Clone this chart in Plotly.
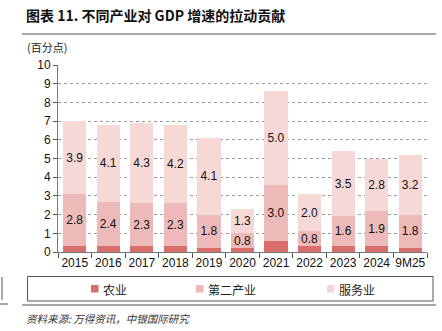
import plotly.graph_objects as go

years = ["2015", "2016", "2017", "2018", "2019", "2020", "2021", "2022", "2023", "2024", "9M25"]
agri = [0.3, 0.3, 0.3, 0.3, 0.2, 0.2, 0.6, 0.3, 0.3, 0.3, 0.2]
industry = [2.8, 2.4, 2.3, 2.3, 1.8, 0.8, 3.0, 0.8, 1.6, 1.9, 1.8]
services = [3.9, 4.1, 4.3, 4.2, 4.1, 1.3, 5.0, 2.0, 3.5, 2.8, 3.2]
series_names = ["农业", "第二产业", "服务业"]
colors = ["#D96F6B", "#EDB9B9", "#F6D9D7"]

W, H = 442, 331
L, R, T, B = 58, 15, 65, 79

fig = go.Figure()
fig.add_trace(go.Bar(x=years, y=agri, name=series_names[0], marker_color=colors[0],
                     marker_line_width=0, hoverinfo="y"))
fig.add_trace(go.Bar(x=years, y=industry, name=series_names[1], marker_color=colors[1],
                     marker_line_width=0, text=industry, texttemplate="%{y:.1f}",
                     textposition="inside", insidetextanchor="middle"))
fig.add_trace(go.Bar(x=years, y=services, name=series_names[2], marker_color=colors[2],
                     marker_line_width=0, text=services, texttemplate="%{y:.1f}",
                     textposition="inside", insidetextanchor="middle"))
fig.update_traces(textfont=dict(family="Liberation Sans, Arial", size=12, color="#111"),
                  textangle=0, cliponaxis=False)


def pxx(p):
    return (p - L) / (W - L - R)


def pxy(p):
    return (H - B - p) / (H - T - B)


shapes = []
# line under title
shapes.append(dict(type="line", xref="paper", yref="paper",
                   x0=pxx(22), x1=pxx(436), y0=pxy(34), y1=pxy(34),
                   line=dict(color="#8a8a8a", width=1.5)))
# legend box
shapes.append(dict(type="rect", xref="paper", yref="paper",
                   x0=pxx(27.5), x1=pxx(433), y0=pxy(276.5), y1=pxy(301),
                   line=dict(color="#555", width=1), fillcolor="rgba(0,0,0,0)"))
# line under legend
shapes.append(dict(type="line", xref="paper", yref="paper",
                   x0=pxx(22), x1=pxx(436), y0=pxy(305), y1=pxy(305),
                   line=dict(color="#8a8a8a", width=1.5)))
# edge artifacts
shapes.append(dict(type="line", xref="paper", yref="paper",
                   x0=pxx(2), x1=pxx(2), y0=pxy(277), y1=pxy(300),
                   line=dict(color="#555", width=1)))
shapes.append(dict(type="line", xref="paper", yref="paper",
                   x0=pxx(0), x1=pxx(8), y0=pxy(304), y1=pxy(304),
                   line=dict(color="#8a8a8a", width=1.5)))

annotations = []
annotations.append(dict(text="图表 11. 不同产业对 GDP 增速的拉动贡献", xref="paper", yref="paper",
                        x=pxx(24), y=pxy(15), xanchor="left", yanchor="middle", showarrow=False,
                        font=dict(family="Noto Sans CJK SC", size=14, color="#111", weight="bold")))
annotations.append(dict(text="(百分点)", xref="paper", yref="paper",
                        x=pxx(25), y=pxy(47), xanchor="left", yanchor="middle", showarrow=False,
                        font=dict(family="Noto Sans CJK SC", size=11, color="#222")))
annotations.append(dict(text="<i>资料来源: 万得资讯，中银国际研究</i>", xref="paper", yref="paper",
                        x=pxx(24), y=pxy(318), xanchor="left", yanchor="middle", showarrow=False,
                        font=dict(family="Noto Sans CJK SC", size=10.5, color="#333")))

# manual legend
leg_x = [91, 196, 327]
for name, col, lx in zip(series_names, colors, leg_x):
    shapes.append(dict(type="rect", xref="paper", yref="paper",
                       x0=pxx(lx), x1=pxx(lx + 7.5), y0=pxy(285), y1=pxy(292.5),
                       line=dict(width=0), fillcolor=col))
    annotations.append(dict(text=name, xref="paper", yref="paper",
                            x=pxx(lx + 10), y=pxy(289), xanchor="left", yanchor="middle",
                            showarrow=False,
                            font=dict(family="Noto Sans CJK SC", size=12, color="#222")))

fig.update_layout(
    width=W, height=H, barmode="stack", bargap=0.31,
    margin=dict(l=L, r=R, t=T, b=B, pad=0),
    paper_bgcolor="white", plot_bgcolor="white",
    showlegend=False,
    shapes=shapes, annotations=annotations,
    uniformtext=dict(minsize=12, mode="show"),
    font=dict(family="Liberation Sans, Arial", size=12, color="#111"),
    xaxis=dict(type="category", showline=True, linecolor="#777", linewidth=1,
               ticks="outside", tickson="boundaries", ticklen=5, tickcolor="#555",
               tickangle=0,
               tickfont=dict(family="Liberation Sans, Arial", size=12, color="#111"),
               showgrid=False),
    yaxis=dict(range=[0, 10], dtick=1, showline=True, linecolor="#777", linewidth=1,
               ticks="outside", ticklen=4, tickcolor="#555",
               showgrid=True, gridcolor="#9a9a9a", griddash="dot", gridwidth=1,
               zeroline=False,
               tickfont=dict(family="Liberation Sans, Arial", size=12, color="#111")),
)

fig.write_html("out.html")
